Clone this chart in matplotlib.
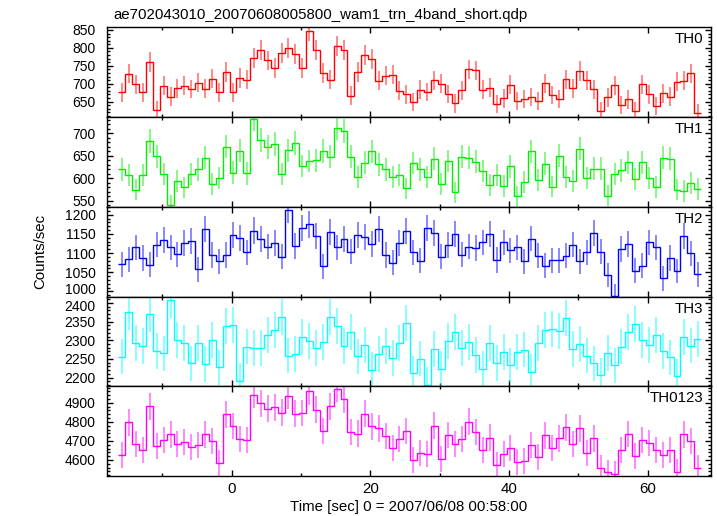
import numpy as np
import matplotlib
matplotlib.use("Agg")
import matplotlib.pyplot as plt
import matplotlib.transforms as mtransforms
from matplotlib.ticker import MultipleLocator

plt.rcParams['font.family'] = ['Liberation Sans', 'DejaVu Sans']

# light curve, 1 s bins starting at -16.3 s
t_start = -16.3
dt = 1.0

th0 = [676, 728, 698, 676, 760, 627, 694, 664, 687, 695, 685, 703, 686, 714, 676, 733, 676, 716, 711, 771,
       795, 765, 744, 786, 800, 782, 744, 848, 795, 730, 711, 805, 793, 667, 733, 780, 770, 708, 722,
       725, 681, 670, 650, 683, 677, 710, 700, 671, 645, 682, 740, 737, 683, 689, 643, 659, 697, 652, 657,
       663, 652, 701, 669, 657, 712, 687, 736, 710, 684, 624, 662, 696, 640, 656, 624, 698, 670, 638, 673,
       664, 706, 708, 729, 618]
th1 = [620, 607, 575, 607, 683, 649, 610, 541, 595, 580, 610, 620, 646, 588, 601, 671, 613, 662, 611, 732,
       685, 670, 677, 610, 663, 679, 628, 639, 640, 661, 648, 713, 705, 648, 603, 635, 660, 631, 620, 604,
       608, 578,
       634, 620, 604, 644, 588, 639, 569, 648, 646, 637, 616, 586, 608, 584, 627, 560, 593, 660, 596, 633,
       582, 651, 604, 595, 666, 601, 622, 622, 562, 610, 618, 636, 599, 636, 600, 581, 646, 644, 575, 572,
       590, 577]
th2 = [1071, 1084, 1115, 1087, 1070, 1122, 1134, 1115, 1097, 1126, 1131, 1058, 1163, 1095, 1079, 1095,
       1148, 1139, 1102, 1159, 1136, 1117, 1126, 1091, 1213, 1118, 1166, 1175, 1145, 1066, 1155, 1115,
       1136, 1104, 1147, 1141, 1123, 1162, 1095, 1075, 1126, 1157,
       1102, 1080, 1166, 1152, 1091, 1121, 1150, 1096, 1117, 1114, 1128, 1150, 1082, 1128, 1107, 1115,
       1079, 1138, 1093, 1067, 1081, 1081, 1093, 1122, 1079, 1102, 1152, 1104, 1043, 989, 1111, 1123,
       1054, 1067, 1128, 1115, 1034, 1087, 1053, 1144, 1099, 1045]
th3 = [2256, 2376, 2292, 2284, 2371, 2272, 2265, 2409, 2301, 2293, 2238, 2293, 2237, 2300, 2228, 2339,
       2341, 2192, 2283, 2279, 2279, 2315, 2328, 2363, 2259, 2264, 2308, 2298, 2280, 2296, 2363, 2339,
       2284, 2323, 2257, 2288, 2221, 2264, 2285, 2253, 2293, 2347,
       2212, 2251, 2181, 2276, 2224, 2299, 2323, 2280, 2296, 2260, 2224, 2292, 2239, 2269, 2233, 2269,
       2275, 2216, 2292, 2327, 2331, 2324, 2360, 2276, 2290, 2259, 2238, 2206, 2266, 2233, 2283, 2322,
       2343, 2300, 2288, 2314, 2272, 2254, 2204, 2310, 2286, 2304]
th0123 = [4624, 4797, 4682, 4652, 4881, 4673, 4703, 4734, 4682, 4694, 4666, 4677, 4734, 4699, 4586, 4839,
          4780, 4712, 4706, 4942, 4897, 4870, 4876, 4849, 4938, 4844, 4846, 4961, 4865, 4753, 4881, 4975,
          4919, 4745, 4739, 4844, 4776, 4766, 4725, 4661, 4708, 4753,
          4598, 4635, 4630, 4781, 4603, 4732, 4685, 4708, 4801, 4745, 4652, 4718, 4572, 4633, 4663, 4588,
          4596, 4678, 4614, 4729, 4661, 4713, 4771, 4684, 4766, 4638, 4713, 4558, 4535, 4527, 4650, 4738,
          4619, 4703, 4687, 4650, 4626, 4650, 4537, 4734, 4699, 4560]

bands = ['TH0', 'TH1', 'TH2', 'TH3', 'TH0123']
series = [th0, th1, th2, th3, th0123]
colors = ['#ff0000', '#00ee00', '#0000ff', '#00ffff', '#ff00ff']
ylims = [(607, 857.5), (537, 736.5), (986.5, 1221), (2177, 2417), (4516, 4987)]
ymajor = [50, 50, 50, 50, 100]
yminor = [10, 10, 10, 10, 20]

fig = plt.figure(figsize=(7.17, 5.16), dpi=100)
left, right = 106.7 / 717, 711 / 717
top, bottom = 1 - 27.3 / 516, 1 - 476 / 516
h = (top - bottom) / 5

axes = []
for i, (name, vals) in enumerate(zip(bands, series)):
    ax = fig.add_axes([left, top - (i + 1) * h, right - left, h])
    axes.append(ax)
    vals = np.array(vals, dtype=float)
    edges = t_start + dt * np.arange(len(vals) + 1)
    centers = edges[:-1] + dt / 2
    err = np.sqrt(vals * dt) / dt
    ax.vlines(centers, vals - err, vals + err, colors=colors[i], lw=1.3, alpha=0.5)
    ax.stairs(vals, edges, color=colors[i], lw=1.0, baseline=None)
    ax.set_xlim(-18, 69.1)
    ax.set_ylim(*ylims[i])
    ax.xaxis.set_major_locator(MultipleLocator(20))
    ax.xaxis.set_minor_locator(MultipleLocator(10))
    ax.yaxis.set_major_locator(MultipleLocator(ymajor[i]))
    ax.yaxis.set_minor_locator(MultipleLocator(yminor[i]))
    ax.tick_params(which='both', direction='in', top=True, right=True, labelsize=10, width=1.0)
    ax.tick_params(which='major', length=4.5, pad=8)
    ax.tick_params(which='minor', length=2.2)
    ax.tick_params(axis='x', pad=4, labelsize=10.8)
    for s in ax.spines.values():
        s.set_linewidth(1.0)
    # drop tick labels that sit on the panel edges
    yt = [v for v in ax.get_yticks() if ylims[i][0] < v < ylims[i][1]]
    ax.set_yticks(yt)
    if i < 4:
        ax.tick_params(labelbottom=False)
    ax.text(1 - 8 / 604, 1 - 16 / 89.7, name, transform=ax.transAxes,
            ha='right', va='baseline', fontsize=10.8)

# nudge the two crowded labels at the TH2/TH3 boundary apart a little
lab_lo = axes[2].get_yticklabels()[0]
lab_hi = axes[3].get_yticklabels()[-1]
lab_lo.set_transform(lab_lo.get_transform() + mtransforms.ScaledTranslation(0, 2.5 / 100, fig.dpi_scale_trans))
lab_hi.set_transform(lab_hi.get_transform() + mtransforms.ScaledTranslation(0, -2.5 / 100, fig.dpi_scale_trans))

fig.text(113 / 717, 1 - 19 / 516, 'ae702043010_20070608005800_wam1_trn_4band_short.qdp',
         ha='left', va='baseline', fontsize=10.8)
fig.text(40 / 717, 1 - 251 / 516, 'Counts/sec', rotation=90, ha='center', va='center', fontsize=10.8)
fig.text(409 / 717, 1 - 511 / 516, 'Time [sec] 0 = 2007/06/08 00:58:00', ha='center', va='baseline',
         fontsize=10.8)

fig.savefig('out.png', dpi=100)
